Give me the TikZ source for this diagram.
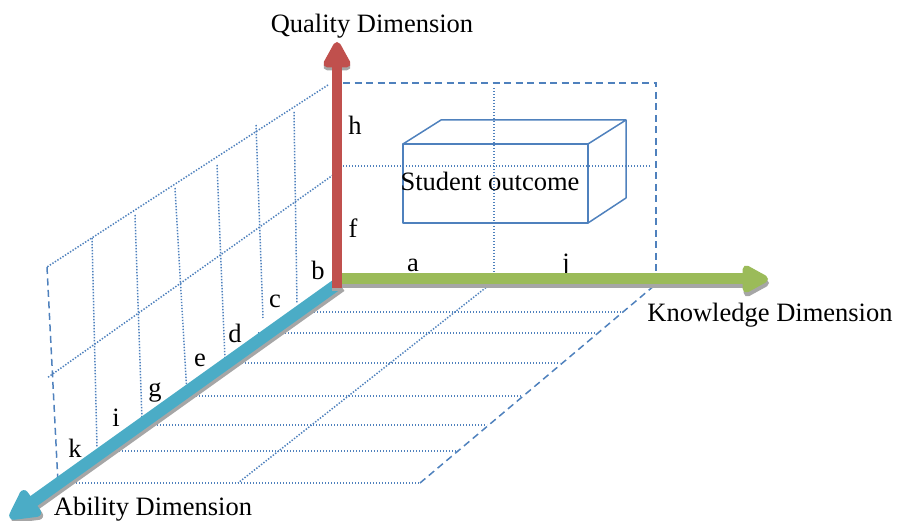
\documentclass[tikz,border=0pt]{standalone}
\usepackage{fontspec}
\setmainfont{Liberation Serif}
\usetikzlibrary{arrows.meta}
\definecolor{axred}{HTML}{C0504D}
\definecolor{axgreen}{HTML}{9BBB59}
\definecolor{axblue}{HTML}{4BACC6}
\definecolor{lineblue}{HTML}{4F81BD}
\definecolor{shadowgray}{HTML}{A6A6A6}
\begin{document}
\begin{tikzpicture}[x=1pt,y=1pt,
  dotl/.style={draw=lineblue, line width=1.5pt, dash pattern=on 1.4pt off 1.6pt},
  dashl/.style={draw=lineblue, line width=1.5pt, dash pattern=on 7pt off 4.5pt},
  boxl/.style={draw=lineblue, line width=1.5pt, line join=round},
  lab/.style={anchor=base, inner sep=0pt, font=\fontsize{26.5}{30}\selectfont},
  redax/.style={line width=10pt, -{Triangle[length=30pt,width=30pt,round]}},
  greenax/.style={line width=11pt, -{Triangle[length=30pt,width=30pt,round]}},
  blueax/.style={line width=12pt, -{Triangle[length=35pt,width=34pt,round]}}]
\useasboundingbox (0,0) rectangle (897,521);

% key coordinates
\coordinate (rS) at (337,233);
\coordinate (rT) at (337,479);
\coordinate (gS) at (337,242);
\coordinate (gT) at (768,242);
\coordinate (bS) at (339,238);
\coordinate (bT) at (10,3);

% ---- back wall (quality-knowledge plane)
\coordinate (bw1) at (343,438);
\coordinate (bw2) at (656,438);
\coordinate (bw3) at (656,243);
\draw[dashl] (bw1) -- (bw2) -- (bw3);
\coordinate (bm1) at (343,355);
\coordinate (bm2) at (650,355);
\draw[dotl] (bm1) -- (bm2);
\coordinate (bv1) at (494,433);
\coordinate (bv2) at (494,243);
\draw[dotl] (bv1) -- (bv2);

% ---- left wall (quality-ability plane)
\coordinate (lw1) at (328,436);
\coordinate (lw2) at (47,254);
\coordinate (lw3) at (58,38);
\draw[dotl] (lw1) -- (lw2);
\draw[dashl] (lw2) -- (lw3);
\coordinate (lm1) at (333,346);
\coordinate (lm2) at (47,143);
\draw[dotl] (lm1) -- (lm2);
\foreach \xa/\ya/\xb/\yb in {92/283/97/74, 135/306/142/101, 175/333/187/126,
    217/356/225/161, 256/396/263/203, 294/409/297/218}
  \draw[dotl] (\xa,\ya) -- (\xb,\yb);

% ---- floor (knowledge-ability plane)
\coordinate (f1) at (420,38);
\coordinate (f2) at (655,236);
\draw[dotl] (lw3) -- (f1);
\draw[dashl] (f1) -- (f2);
\coordinate (fd1) at (493,239);
\coordinate (fd2) at (238,38);
\draw[dotl] (fd1) -- (fd2);
\foreach \xa/\y/\xb in {305/209/621, 258/188/596, 233/158/560, 187/125/521,
    148/96/487, 113/70/456}
  \draw[dotl] (\xa,\y) -- (\xb,\y);

% ---- student outcome box
\coordinate (s1) at (403,377);
\coordinate (s2) at (588,377);
\coordinate (s3) at (588,298);
\coordinate (s4) at (403,298);
\coordinate (s5) at (441,401);
\coordinate (s6) at (626,401);
\coordinate (s7) at (626,323);
\draw[boxl] (s1) -- (s2) -- (s3) -- (s4) -- cycle;
\draw[boxl] (s1) -- (s5) -- (s6) -- (s2);
\draw[boxl] (s6) -- (s7) -- (s3);
\node[lab] (so) at (490,330) {Student outcome};

% ---- labels
\node[lab] (tq) at (372,488) {Quality Dimension};
\node[lab] (tk) at (770,199) {Knowledge Dimension};
\node[lab] (ta) at (153,5) {Ability Dimension};
\node[lab] (lh) at (355,386) {h};
\node[lab] (lf) at (353,283) {f};
\node[lab] (la) at (413,249) {a};
\node[lab] (lj) at (566,249) {j};
\node[lab] (lb) at (318,241) {b};
\node[lab] (lc) at (275,213) {c};
\node[lab] (ld) at (235,178) {d};
\node[lab] (le) at (200,154) {e};
\node[lab] (lg) at (155,124) {g};
\node[lab] (li) at (116,94) {i};
\node[lab] (lk) at (75,63) {k};

% ---- axes with shadows
\draw[blueax, shadowgray] ([shift={(2,-3)}]bS) -- ([shift={(2,-3)}]bT);
\draw[blueax, axblue] (bS) -- (bT);
\draw[greenax, shadowgray] ([shift={(1,-4)}]gS) -- ([shift={(1,-4)}]gT);
\draw[greenax, axgreen] (gS) -- (gT);
\draw[redax, shadowgray] ([shift={(0,-3)}]rS) -- ([shift={(0,-3)}]rT);
\draw[redax, axred] (rS) -- (rT);
\end{tikzpicture}
\end{document}
